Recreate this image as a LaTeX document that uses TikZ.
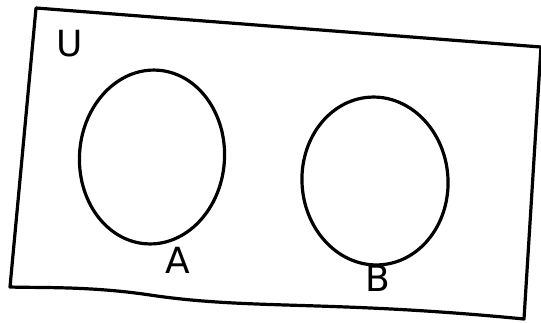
\documentclass[tikz,border=0pt]{standalone}
\usepackage{fontspec}
\setmainfont{DejaVu Sans}
\usetikzlibrary{shapes.geometric}
\begin{document}
\begin{tikzpicture}[x=1pt,y=-1pt,
  ink/.style={line width=3.2pt,line join=round,line cap=round,black},
  lbl/.style={font=\fontsize{36}{36}\selectfont,inner sep=0pt}]
\useasboundingbox (0,0) rectangle (541,322);
\coordinate (tl) at (36,8);
\coordinate (tr) at (541,47);
\coordinate (br) at (524,319);
\coordinate (bl) at (10,287);
\draw[ink] (tl) -- (tr) -- (br) .. controls (330,300) and (250,310) .. (150,295) .. controls (90,286) and (40,288) .. (bl) -- cycle;
\node[lbl] (U) at (70,44) {U};
\node[ink,draw,ellipse,minimum width=145pt,minimum height=174pt,inner sep=0pt,rotate=-4] (A) at (152,157) {};
\node[ink,draw,ellipse,minimum width=146pt,minimum height=168pt,inner sep=0pt,rotate=4] (B) at (375,181) {};
\node[lbl] (la) at (178,260) {A};
\node[lbl] (lb) at (378,278) {B};
\end{tikzpicture}
\end{document}
